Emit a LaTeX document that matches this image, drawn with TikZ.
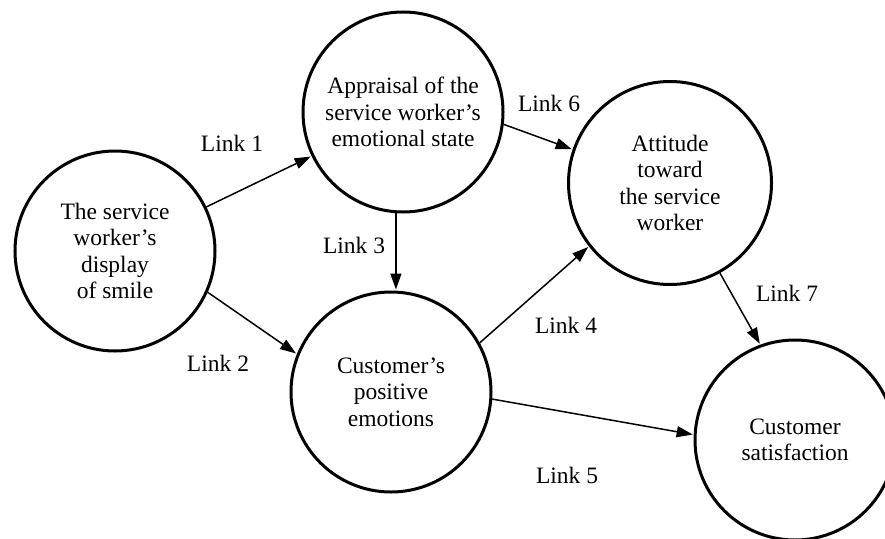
\documentclass[tikz,border=0pt]{standalone}
\usepackage{fontspec}
\setmainfont{Liberation Serif}
\usetikzlibrary{arrows.meta}
\begin{document}
\begin{tikzpicture}[x=1pt,y=-1pt,
  concept/.style={circle,draw=black,line width=3pt,minimum size=200pt,inner sep=0pt,
    align=center,font=\fontsize{23.5}{26.3}\selectfont},
  linklabel/.style={inner sep=0pt,font=\fontsize{23.5}{26.3}\selectfont},
  link/.style={line width=1.5pt,-{Triangle[length=16pt,width=11pt]},shorten >=1pt}]
\useasboundingbox (0,0) rectangle (885,538);
\node[concept] (smile) at (115,251) {The service\\worker’s\\display\\of smile};
\node[concept] (appraisal) at (403,112) {Appraisal of the\\service worker’s\\emotional state};
\node[concept] (emotions) at (391,392) {Customer’s\\positive\\emotions};
\node[concept,minimum size=203pt] (attitude) at (670,183) {Attitude\\toward\\the service\\worker};
\node[concept] (satisfaction) at (795,440) {Customer\\satisfaction};
\node[linklabel] (l1) at (232,143) {Link 1};
\node[linklabel] (l2) at (218,363) {Link 2};
\node[linklabel] (l3) at (354,245) {Link 3};
\node[linklabel] (l4) at (566,325) {Link 4};
\node[linklabel] (l5) at (567,475) {Link 5};
\node[linklabel] (l6) at (549,103) {Link 6};
\node[linklabel] (l7) at (787,293) {Link 7};
\draw[link] (smile) -- (appraisal);
\draw[link] (smile.-24) -- (emotions.158);
\draw[link] (appraisal.-94) -- (appraisal.-94 |- emotions.north);
\draw[link] (appraisal.-7) -- (attitude.161);
\draw[link] (emotions.29) -- (attitude.218);
\draw[link] (emotions.-4) -- (satisfaction.177);
\draw[link] (attitude.-61) -- (satisfaction.110);
\end{tikzpicture}
\end{document}
